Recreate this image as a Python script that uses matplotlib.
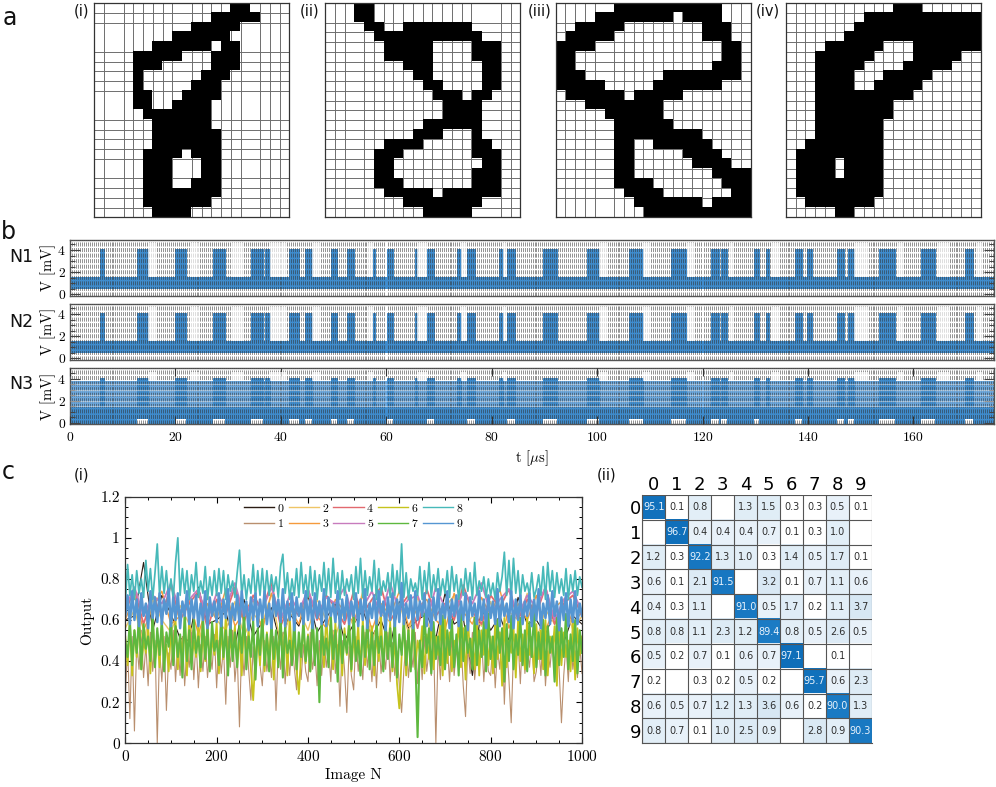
import numpy as np
import matplotlib
matplotlib.use("Agg")
import matplotlib.pyplot as plt
from matplotlib.colors import LinearSegmentedColormap

plt.rcParams["font.family"] = ["cmr10", "DejaVu Sans"]
plt.rcParams["mathtext.fontset"] = "cm"
plt.rcParams["axes.formatter.use_mathtext"] = True
plt.rcParams["lines.scale_dashes"] = False

W, H = 996, 787
SANS = "DejaVu Sans"

# panel a, black runs (start col, end col) per row
digit_i = [[(14, 16)], [(12, 17)], [(10, 15)], [(8, 14)], [(6, 12), (13, 15)], [(4, 9), (12, 15)],
           [(4, 7), (12, 15)], [(4, 5), (11, 14)], [(4, 5), (10, 13)], [(4, 6), (9, 13)], [(4, 6), (8, 12)],
           [(5, 12)], [(6, 12)], [(6, 13)], [(6, 13)], [(5, 9), (10, 13)], [(5, 8), (11, 13)], [(5, 8), (11, 13)],
           [(5, 8), (10, 13)], [(5, 13)], [(5, 12)], [(6, 10)]]
digit_ii = [[(3, 5)], [(3, 5)], [(4, 6), (8, 15)], [(5, 16)], [(6, 11), (15, 18)], [(6, 11), (15, 18)],
            [(8, 11), (16, 18)], [(9, 11), (16, 18)], [(10, 12), (16, 18)], [(11, 14), (15, 17)], [(12, 16)],
            [(12, 16)], [(10, 16)], [(9, 12), (15, 16)], [(6, 10), (15, 17)], [(5, 8), (15, 18)], [(5, 7), (16, 18)],
            [(5, 7), (15, 18)], [(5, 8), (15, 18)], [(6, 11), (12, 18)], [(8, 16)], [(10, 15)]]
digit_iii = [[(6, 17)], [(4, 12), (13, 17)], [(2, 7), (15, 18)], [(1, 6), (15, 18)], [(0, 4), (17, 19)],
             [(0, 2), (17, 19)], [(0, 2), (16, 19)], [(0, 3), (11, 19)], [(0, 5), (10, 17)], [(1, 7), (8, 13)],
             [(3, 11)], [(5, 11)], [(6, 12)], [(6, 15)], [(6, 8), (10, 16)], [(6, 8), (13, 17)], [(6, 8), (14, 18)],
             [(6, 8), (16, 20)], [(6, 10), (17, 20)], [(7, 11), (18, 20)], [(8, 15), (16, 20)], [(9, 20)]]
digit_iv = [[(11, 14)], [(8, 20)], [(7, 20)], [(6, 20)], [(4, 10), (13, 20)], [(3, 9), (13, 18)], [(3, 8), (12, 17)],
            [(3, 7), (10, 15)], [(3, 7), (9, 14)], [(3, 13)], [(3, 11)], [(3, 11)], [(3, 10)], [(3, 10)], [(2, 10)],
            [(1, 10)], [(1, 5), (6, 10)], [(1, 5), (6, 10)], [(1, 10)], [(1, 10)], [(2, 9)], [(5, 7)]]
grid_cols = [[1, 3, 4, 5, 6, 7, 8, 10, 11, 12, 13, 14, 15, 17, 18, 19],
             [1, 2, 4, 5, 6, 7, 8, 9, 10, 11, 12, 13, 14, 15, 18, 19],
             [1, 2, 3, 4, 6, 7, 8, 9, 10, 11, 12, 13, 14, 15, 16, 17, 18, 19],
             list(range(1, 20))]
grid_rows = [[1, 2, 5, 6, 7, 8, 9, 12, 13, 14, 15, 16, 18, 19, 20, 21],
             list(range(2, 22)),
             list(range(2, 21)),
             list(range(1, 22))]

# panel b, burst windows in microseconds
burst_start = [5.7, 12.8, 19.9, 27.2, 34.3, 37.0, 41.5, 44.65, 49.45, 52.6, 57.4, 60.2, 65.5, 67.8, 73.5, 75.3, 81.4,
               82.9, 89.7, 98.1, 106.1, 114.0, 121.6, 123.6, 129.7, 132.0, 137.6, 139.9, 145.6, 147.6, 153.5, 161.5,
               169.8]
burst_end = [6.45, 14.75, 21.95, 29.5, 36.7, 37.95, 43.45, 45.85, 50.6, 53.9, 57.8, 61.35, 65.85, 69.0, 74.2, 76.9,
             82.2, 84.4, 92.35, 100.4, 108.8, 116.8, 123.2, 124.7, 130.8, 132.7, 138.8, 140.7, 146.8, 148.7, 156.6,
             164.2, 171.3]
quiet_start = [14.75, 23.0, 30.5, 38.0, 46.0, 56.6, 65.85, 74.2, 82.2, 100.4, 108.8, 117.0, 125.0, 133.0, 148.7,
               157.0, 164.4, 172.0]
quiet_end = [16.3, 24.5, 33.0, 41.2, 47.6, 57.4, 67.7, 75.3, 82.9, 101.8, 110.0, 118.5, 126.0, 134.5, 151.5,
             158.0, 166.8, 173.0]

# panel c, output x100 sampled every 5 images
out8 = [68, 87, 72, 82, 70, 84, 73, 80, 71, 89, 74, 85, 70, 83, 97, 72, 86, 73, 84, 71,
        80, 70, 88, 100, 72, 85, 73, 84, 70, 82, 74, 88, 71, 79, 73, 86, 70, 81, 72, 84,
        72, 85, 73, 84, 70, 82, 74, 79, 71, 83, 94, 72, 82, 70, 80, 73, 87, 71, 84, 72,
        85, 71, 84, 72, 82, 74, 81, 71, 86, 92, 73, 83, 70, 80, 72, 85, 71, 88, 73, 82,
        71, 86, 72, 84, 70, 82, 74, 88, 72, 85, 71, 90, 73, 83, 70, 84, 72, 80, 74, 82,
        70, 86, 73, 90, 71, 84, 72, 81, 74, 89, 70, 85, 72, 79, 74, 83, 71, 87, 72, 84,
        73, 97, 71, 83, 70, 80, 74, 78, 72, 86, 70, 84, 73, 88, 71, 82, 74, 85, 72, 80,
        73, 84, 71, 86, 74, 82, 70, 80, 72, 85, 74, 83, 70, 88, 72, 79, 74, 81, 71, 80,
        72, 78, 70, 83, 74, 81, 93, 72, 89, 71, 90, 73, 84, 70, 82, 74, 78, 72, 83, 71,
        75, 82, 72, 86, 70, 88, 74, 84, 71, 83, 73, 80, 72, 85, 70, 82, 74, 84, 72, 81, 76]
out9 = [62, 72, 58, 74, 60, 70, 57, 73, 62, 68, 56, 74, 61, 71, 59, 73, 58, 70, 63, 75,
        57, 71, 60, 73, 56, 69, 62, 74, 58, 70, 61, 72, 57, 68, 60, 74, 56, 71, 62, 69,
        59, 73, 57, 70, 61, 75, 56, 68, 60, 72, 58, 74, 62, 69, 55, 71, 60, 73, 57, 70,
        61, 74, 58, 68, 56, 72, 62, 70, 59, 75, 57, 69, 60, 73, 55, 71, 62, 68, 58, 74,
        60, 70, 56, 73, 61, 69, 58, 75, 57, 71, 62, 68, 59, 74, 56, 70, 60, 72, 58, 69,
        62, 73, 57, 70, 60, 75, 56, 68, 61, 72, 58, 74, 62, 69, 55, 71, 60, 73, 57, 70,
        59, 78, 58, 68, 61, 72, 56, 74, 60, 69, 62, 73, 57, 70, 55, 71, 60, 75, 58, 68,
        61, 74, 56, 70, 62, 72, 57, 69, 60, 73, 55, 71, 62, 68, 58, 74, 60, 70, 56, 72,
        61, 69, 58, 75, 57, 71, 62, 68, 59, 74, 56, 70, 60, 72, 58, 69, 62, 73, 57, 70,
        60, 75, 56, 68, 61, 72, 58, 74, 62, 69, 55, 71, 60, 73, 57, 70, 59, 74, 58, 68, 62]
out7 = [50, 42, 60, 38, 55, 44, 62, 36, 58, 46, 52, 40, 63, 37, 56, 43, 60, 35, 54, 47,
        61, 38, 57, 42, 53, 32, 64, 40, 55, 36, 60, 44, 52, 37, 62, 41, 56, 35, 59, 45,
        50, 38, 63, 42, 55, 33, 61, 40, 54, 37, 58, 44, 64, 36, 52, 42, 60, 31, 56, 43,
        62, 38, 53, 35, 59, 41, 55, 37, 63, 32, 57, 44, 50, 38, 61, 36, 54, 42, 60, 40,
        52, 35, 64, 38, 56, 20, 59, 43, 51, 37, 62, 41, 55, 30, 60, 39, 53, 44, 58, 36,
        63, 40, 50, 33, 57, 42, 61, 36, 54, 38, 60, 44, 52, 35, 59, 41, 56, 37, 62, 32,
        53, 43, 60, 38, 55, 35, 61, 42, 3, 50, 37, 63, 44, 56, 34, 59, 41, 52, 38, 62,
        36, 55, 43, 60, 37, 53, 33, 64, 40, 57, 44, 51, 36, 61, 38, 55, 42, 59, 35, 63,
        41, 52, 37, 60, 44, 56, 30, 58, 40, 62, 36, 53, 43, 61, 38, 55, 35, 59, 42, 64,
        37, 54, 41, 60, 33, 57, 44, 52, 30, 61, 38, 56, 42, 63, 36, 53, 40, 60, 34, 55, 44]
out6 = [52, 38, 58, 33, 55, 42, 60, 36, 50, 44, 57, 34, 61, 40, 53, 37, 59, 43, 48, 35,
        56, 41, 60, 36, 52, 44, 57, 33, 62, 39, 50, 42, 58, 35, 54, 40, 60, 37, 51, 43,
        59, 34, 55, 41, 62, 36, 50, 44, 57, 38, 53, 33, 60, 40, 56, 36, 21, 43, 52, 38,
        61, 35, 54, 42, 58, 31, 50, 44, 60, 37, 55, 33, 62, 41, 52, 36, 24, 43, 57, 39,
        53, 35, 60, 42, 50, 30, 58, 37, 62, 44, 54, 36, 59, 40, 51, 33, 56, 43, 60, 35,
        52, 41, 58, 34, 61, 38, 50, 44, 57, 33, 54, 40, 62, 36, 53, 43, 59, 35, 51, 29,
        17, 42, 60, 33, 55, 38, 62, 36, 50, 44, 57, 34, 53, 41, 60, 36, 52, 43, 58, 33,
        61, 39, 54, 35, 50, 44, 59, 37, 56, 31, 62, 42, 51, 36, 58, 33, 55, 43, 60, 38,
        52, 34, 59, 41, 54, 28, 61, 37, 50, 44, 57, 32, 60, 40, 53, 36, 62, 43, 51, 34,
        58, 41, 55, 36, 60, 33, 52, 44, 57, 28, 61, 38, 54, 42, 50, 35, 59, 31, 56, 43, 52]
out1 = [22, 48, 12, 52, 6, 50, 36, 55, 32, 48, 28, 54, 35, 50, 0, 46, 30, 52, 16, 44,
        36, 55, 30, 49, 33, 52, 28, 46, 37, 54, 31, 50, 27, 48, 35, 52, 32, 45, 36, 53,
        27, 50, 34, 47, 19, 52, 37, 55, 30, 44, 8, 49, 33, 52, 36, 21, 47, 31, 54, 38,
        28, 50, 35, 45, 32, 52, 16, 48, 36, 54, 29, 46, 33, 50, 37, 26, 52, 31, 48, 35,
        30, 54, 36, 45, 28, 50, 33, 52, 37, 46, 30, 55, 34, 48, 18, 50, 36, 15, 47, 33,
        26, 52, 35, 45, 31, 54, 37, 48, 30, 50, 27, 52, 34, 46, 36, 54, 30, 49, 33, 45,
        28, 15, 36, 50, 32, 46, 37, 54, 29, 48, 31, 52, 35, 45, 33, 50, 0, 47, 31, 54,
        36, 48, 30, 52, 33, 46, 37, 50, 28, 13, 48, 34, 54, 31, 45, 36, 52, 30, 48, 35,
        33, 50, 27, 46, 36, 54, 19, 48, 31, 10, 45, 36, 50, 29, 53, 34, 46, 37, 52, 30,
        35, 48, 33, 54, 28, 45, 37, 50, 31, 47, 36, 10, 33, 48, 30, 52, 36, 45, 32, 48, 34]
# sampled every 20 images
out0 = [60, 62, 88, 55, 72, 63, 51, 50, 76, 58, 60, 64, 47, 70, 52, 59, 66, 48, 63, 57, 72, 54, 61, 68, 50, 58,
        65, 52, 60, 47, 69, 56, 60, 63, 51, 73, 58, 61, 33, 66, 55, 62, 50, 71, 58, 60, 53, 64, 49, 62, 58]
out2 = [56, 65, 49, 70, 60, 54, 67, 58, 47, 72, 60, 55, 69, 52, 63, 58, 73, 48, 62, 65, 55, 70, 60, 52, 66, 57,
        74, 50, 63, 59, 68, 54, 71, 60, 48, 66, 72, 55, 62, 57, 69, 52, 64, 60, 73, 50, 65, 58, 70, 55, 62]
out3 = [60, 72, 55, 66, 74, 58, 62, 70, 53, 68, 60, 75, 57, 64, 70, 55, 73, 60, 66, 58, 74, 62, 56, 70, 64, 59,
        72, 55, 68, 62, 74, 57, 66, 70, 60, 55, 73, 64, 58, 71, 62, 75, 56, 68, 60, 72, 55, 66, 70, 58, 64]
out4 = [64, 75, 58, 72, 62, 77, 60, 68, 74, 56, 70, 63, 76, 59, 72, 65, 78, 57, 68, 62, 75, 60, 72, 66, 58, 74,
        63, 70, 76, 60, 66, 72, 56, 75, 62, 68, 60, 77, 64, 58, 72, 66, 75, 60, 70, 63, 76, 58, 68, 72, 62]
out5 = [66, 76, 62, 72, 68, 78, 64, 70, 75, 60, 73, 66, 78, 62, 70, 65, 76, 60, 72, 64, 75, 62, 71, 68, 76, 60,
        66, 74, 62, 78, 64, 70, 72, 60, 76, 66, 62, 74, 68, 78, 63, 70, 75, 62, 72, 66, 76, 60, 70, 74, 64]
series_names = ["0", "1", "2", "3", "4", "5", "6", "7", "8", "9"]
series_colors = ["#2a1c14", "#b98f6e", "#efc566", "#f59a3c", "#e2696f", "#c77bbd", "#c6c31d", "#5eb83f", "#47b9b9",
                 "#5596d2"]
series_widths = [0.8, 0.8, 1.0, 1.0, 1.3, 1.3, 1.3, 1.5, 1.25, 1.8]
c_xticks = [0, 200, 400, 600, 800, 1000]
c_yticks = [0, 0.2, 0.4, 0.6, 0.8, 1, 1.2]
c_ylabels = ["0", "0.2", "0.4", "0.6", "0.8", "1", "1.2"]

# panel c (ii), confusion matrix in percent
confusion = [[95.1, 0.1, 0.8, None, 1.3, 1.5, 0.3, 0.3, 0.5, 0.1],
             [None, 96.7, 0.4, 0.4, 0.4, 0.7, 0.1, 0.3, 1.0, None],
             [1.2, 0.3, 92.2, 1.3, 1.0, 0.3, 1.4, 0.5, 1.7, 0.1],
             [0.6, 0.1, 2.1, 91.5, None, 3.2, 0.1, 0.7, 1.1, 0.6],
             [0.4, 0.3, 1.1, None, 91.0, 0.5, 1.7, 0.2, 1.1, 3.7],
             [0.8, 0.8, 1.1, 2.3, 1.2, 89.4, 0.8, 0.5, 2.6, 0.5],
             [0.5, 0.2, 0.7, 0.1, 0.6, 0.7, 97.1, None, 0.1, None],
             [0.2, None, 0.3, 0.2, 0.5, 0.2, None, 95.7, 0.6, 2.3],
             [0.6, 0.5, 0.7, 1.2, 1.3, 3.6, 0.6, 0.2, 90.0, 1.3],
             [0.8, 0.7, 0.1, 1.0, 2.5, 0.9, None, 2.8, 0.9, 90.3]]


def px_axes(fig, left, top, right, bottom):
    return fig.add_axes([left / W, 1 - bottom / H, (right - left) / W, (bottom - top) / H])


def label(fig, x, y, s, size):
    fig.text(x / W, 1 - y / H, s, fontsize=size, family=SANS, ha="center", va="center", color="#111111")


fig = plt.figure(figsize=(W / 100, H / 100), dpi=100)

# a: binarised digits
digits = [digit_i, digit_ii, digit_iii, digit_iv]
boxes = [(94.3, 289.3), (325, 520.3), (555.7, 750.7), (786, 980.7)]
for k, runs in enumerate(digits):
    ax = px_axes(fig, boxes[k][0], 3.3, boxes[k][1], 217.3)
    img = np.zeros((22, 20))
    for r, row in enumerate(runs):
        for c0, c1 in row:
            img[r, c0:c1] = 1
    ax.imshow(np.ma.masked_where(img == 0, img), cmap="gray_r", vmin=0, vmax=1, extent=(0, 20, 22, 0),
              aspect="auto", interpolation="nearest", zorder=1)
    ax.set_xticks(grid_cols[k])
    ax.set_yticks(grid_rows[k])
    ax.set_axisbelow(True)
    ax.grid(color="#6e6e6e", lw=0.7)
    ax.tick_params(length=0, labelbottom=False, labelleft=False)
    for s in ax.spines.values():
        s.set_color("#333333")
        s.set_linewidth(0.9)
for x, s in zip([81, 310, 540, 768], ["(i)", "(ii)", "(iii)", "(iv)"]):
    label(fig, x, 11, s, 10.5)

# b: spike trains
starts = np.array(burst_start)
ends = np.array(burst_end)
BLUE = "#3f8ccd"
tops = [(239.7, 295.7), (303.7, 359.7), (368.3, 424.3)]
for n, (top, bottom) in enumerate(tops):
    ax = px_axes(fig, 70, top, 994, bottom)
    ax.set_xlim(0, 175.3)
    ax.set_ylim(-0.12, 4.93)
    ax.bar(starts, 2.7, width=ends - starts, bottom=1.4, align="edge", color=BLUE, edgecolor=BLUE, lw=0.7, zorder=1.2)
    if n < 2:
        ax.axhspan(0.45, 1.55, color=BLUE, lw=0, zorder=1)
        y0, y1 = 1.55, 4.6
    else:
        ax.axhspan(-0.12, 1.4, color=BLUE, lw=0, zorder=1)
        ax.axhspan(1.4, 3.75, color="#6ba7dc", lw=0, zorder=1)
        wide = ends - starts > 1.0
        ax.bar(starts[wide], 0.52, width=(ends - starts)[wide], bottom=-0.12, align="edge", color="white", lw=0,
               zorder=1.5)
        y0, y1 = 3.75, 4.6
    ax.bar(quiet_start, y1 - y0, width=np.array(quiet_end) - np.array(quiet_start), bottom=y0, align="edge",
           color="white", alpha=0.7, lw=0, zorder=3)
    if n == 2:
        ax.hlines([1.5, 2.0, 2.5, 3.0, 3.5], 0, 175.3, color="white", lw=0.9, alpha=0.45, zorder=3)
    ax.set_axisbelow(False)
    ax.set_xticks(np.arange(0, 175.3, 20))
    ax.set_xticks(np.arange(0, 175.3, 0.375), minor=True)
    ax.grid(which="minor", axis="x", color="#303030", alpha=0.6, lw=0.62, linestyle=(0, (2.9, 1.1)))
    ax.set_yticks([0, 2, 4])
    ax.set_yticks(np.arange(0, 4.9, 0.5), minor=True)
    ax.tick_params(axis="x", which="minor", length=0)
    ax.tick_params(axis="x", which="major", direction="in", top=True, length=6 if n == 2 else 0, width=0.8,
                   color="#333333", labelbottom=n == 2, labelsize=9.8, pad=5)
    ax.tick_params(axis="y", which="major", direction="in", right=True, length=7, width=0.8, color="#444444",
                   labelsize=9.8, pad=3)
    ax.tick_params(axis="y", which="minor", direction="in", right=True, length=3.5, width=0.7, color="#444444")
    ax.set_ylabel("V [mV]", fontsize=10.5, labelpad=1)
    for s in ax.spines.values():
        s.set_color("#555555")
        s.set_linewidth(1.0)
    if n == 2:
        ax.set_xlabel(r"t [$\mu$s]", fontsize=10.5, labelpad=3)
label(fig, 21, 257, "N1", 12.5)
label(fig, 21, 322, "N2", 12.5)
label(fig, 21, 384, "N3", 12.5)
label(fig, 10, 18, "a", 17)
label(fig, 8, 232, "b", 17)
label(fig, 8, 472, "c", 17)

# c (i): network outputs
ax = px_axes(fig, 125.3, 496.7, 582, 743.3)
dense = {1: out1, 6: out6, 7: out7, 8: out8, 9: out9}
sparse = {0: out0, 2: out2, 3: out3, 4: out4, 5: out5}
for i in range(10):
    if i in dense:
        y = np.array(dense[i]) / 100
        x = np.arange(len(y)) * 5
    else:
        y = np.array(sparse[i]) / 100
        x = np.arange(len(y)) * 20
    ax.plot(x, y, color=series_colors[i], lw=series_widths[i], label=series_names[i], zorder=2 + i * 0.01)
ax.set_xlim(0, 1000)
ax.set_ylim(0, 1.2)
ax.set_xticks(c_xticks)
ax.set_xticks(np.arange(0, 1001, 50), minor=True)
ax.set_yticks(c_yticks, c_ylabels)
ax.set_yticks(np.arange(0, 1.21, 0.05), minor=True)
ax.tick_params(which="major", direction="in", top=True, right=True, length=4.5, width=0.8, labelsize=11, pad=4)
ax.tick_params(which="minor", direction="in", top=True, right=True, length=2.3, width=0.7)
ax.set_xlabel("Image N", fontsize=11, labelpad=3)
ax.set_ylabel("Output", fontsize=11, labelpad=4)
for s in ax.spines.values():
    s.set_color("#333333")
    s.set_linewidth(0.9)
leg = ax.legend(ncol=5, frameon=False, fontsize=8.5, loc="upper left", bbox_to_anchor=(0.255, 0.983),
                handlelength=2.55, handletextpad=0.3, columnspacing=0.43, labelspacing=0.42, borderaxespad=0,
                borderpad=0.2)
for line in leg.get_lines():
    line.set_linewidth(1.0)
label(fig, 81, 475, "(i)", 10.5)
label(fig, 607, 475, "(ii)", 10.5)

# c (ii): confusion matrix
ax = px_axes(fig, 642.3, 495, 872, 743.3)
cmap = LinearSegmentedColormap.from_list("conf", [(0, "#ffffff"), (0.0035, "#ffffff"), (0.004, "#e4eff8"),
                                                  (0.04, "#d6e6f3"), (0.89, "#1c7cc5"), (1, "#0a6ab6")])
vals = np.array(confusion, dtype=float)
ax.imshow(vals, cmap=cmap, vmin=0, vmax=100, aspect="auto", interpolation="nearest")
for r in range(10):
    for c in range(10):
        if not np.isnan(vals[r, c]):
            ax.text(c, r, f"{vals[r, c]:.1f}", ha="center", va="center", fontsize=7.0, family=SANS,
                    color="#e8f2fb" if vals[r, c] > 50 else "#2f2f2f")
ax.set_xticks(range(10), series_names, family=SANS, fontsize=13)
ax.set_yticks(range(10), series_names, family=SANS, fontsize=13)
ax.set_xticks(np.arange(-0.5, 10), minor=True)
ax.set_yticks(np.arange(-0.5, 10), minor=True)
ax.grid(which="minor", color="#555555", lw=0.8)
ax.tick_params(which="both", length=0)
ax.tick_params(axis="x", top=True, labeltop=True, bottom=False, labelbottom=False, pad=1)
ax.tick_params(axis="y", pad=1)
for name, s in ax.spines.items():
    s.set_visible(name in ("left", "bottom"))
    s.set_color("#555555")

fig.savefig("out.png", dpi=100)
